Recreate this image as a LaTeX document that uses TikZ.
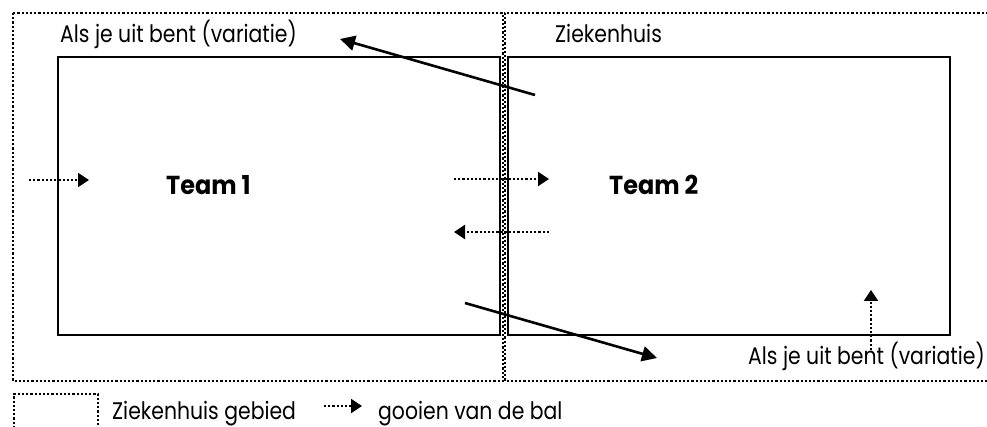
\documentclass[tikz,border=0pt]{standalone}
\usepackage{fontspec}
\setmainfont{Poppins}
\newfontfamily\lblfont{Poppins}[FakeStretch=0.85]
\newfontfamily\teamfont{Poppins}[FakeStretch=0.92]
\usetikzlibrary{arrows.meta}
\begin{document}
\begin{tikzpicture}[x=1pt,y=-1pt,
  field/.style={draw, line width=2.6pt},
  zone/.style={line width=2.2pt, dash pattern=on 2.2pt off 2pt},
  throw/.style={line width=2.2pt, dash pattern=on 2.2pt off 2pt, -{Triangle[length=11pt,width=14pt]}},
  pass/.style={line width=2.6pt, -{Triangle[length=15pt,width=15pt]}},
  lbl/.style={inner sep=0pt, anchor=base west, font=\lblfont\fontsize{24}{28}\selectfont},
  team/.style={inner sep=0pt, anchor=base west, font=\teamfont\fontsize{26}{30}\selectfont\bfseries}]
\useasboundingbox (0,0) rectangle (987,427);
% hospital zones
\draw[zone] (13,13) rectangle (503,381);
\draw[zone] (988,13) -- (505,13) -- (505,381) -- (988,381);
% fields
\draw[field] (58,57) rectangle (500,335);
\draw[field] (508,57) rectangle (950,335);
% labels
\node[lbl] (var1) at (60,43) {Als je uit bent (variatie)};
\node[lbl] (zh) at (555,43) {Ziekenhuis};
\node[team] (t1) at (166,195) {Team 1};
\node[team] (t2) at (609,195) {Team 2};
\node[lbl, anchor=base east] (var2) at (985,364) {Als je uit bent (variatie)};
% arrow end points
\coordinate (a1s) at (29,180);  \coordinate (a1e) at (89,180);
\coordinate (a2s) at (454,179); \coordinate (a2e) at (549,179);
\coordinate (a3s) at (549,232); \coordinate (a3e) at (454,232);
\coordinate (a4s) at (871,350); \coordinate (a4e) at (871,290);
\coordinate (p1s) at (535,95);  \coordinate (p1e) at (340,39);
\coordinate (p2s) at (465,303); \coordinate (p2e) at (657,358);
\draw[throw] (a1s) -- (a1e);
\draw[throw] (a2s) -- (a2e);
\draw[throw] (a3s) -- (a3e);
\draw[throw] (a4s) -- (a4e);
\draw[pass] (p1s) -- (p1e);
\draw[pass] (p2s) -- (p2e);
% legend
\draw[zone] (14,428) -- (14,394) -- (98,394) -- (98,428);
\node[lbl] (lg1) at (112,419) {Ziekenhuis gebied};
\coordinate (lgs) at (324,406); \coordinate (lge) at (362,406);
\draw[throw] (lgs) -- (lge);
\node[lbl] (lg2) at (378,419) {gooien van de bal};
\end{tikzpicture}
\end{document}
